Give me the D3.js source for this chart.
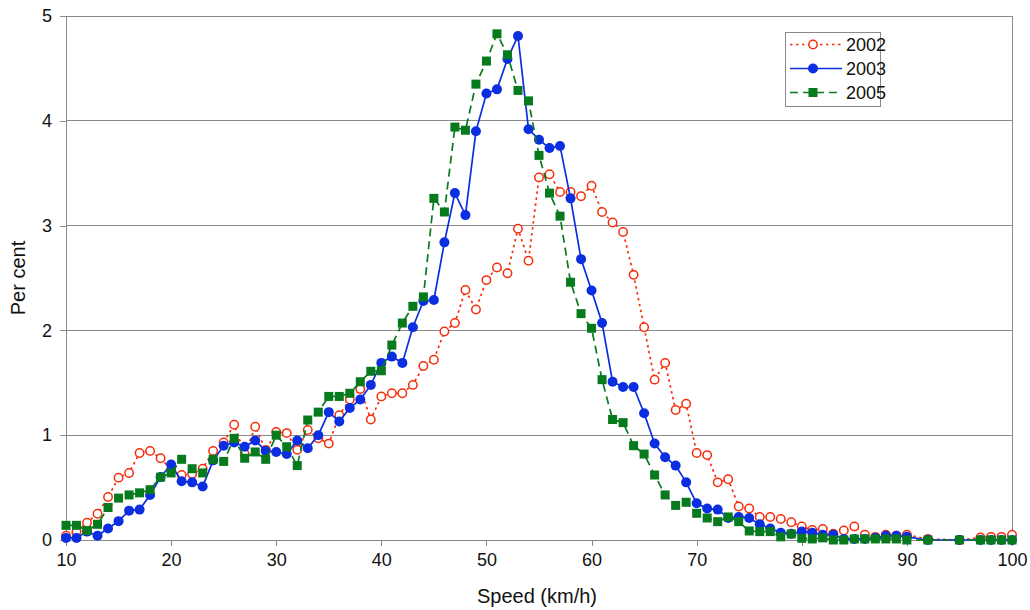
<!DOCTYPE html>
<html>
<head>
<meta charset="utf-8">
<script src="https://cdn.jsdelivr.net/npm/d3@7"></script>
<style>
  html, body { margin: 0; padding: 0; background: #fff; }
  svg text { font-family: "Liberation Sans Narrow", sans-serif; fill: #111; font-weight: normal; }
</style>
</head>
<body>
<svg id="chart" width="1030" height="610"></svg>
<script>
// ---- DATA ----
const speeds = [10, 11, 12, 13, 14, 15, 16, 17, 18, 19, 20, 21, 22, 23, 24, 25, 26, 27, 28, 29,
  30, 31, 32, 33, 34, 35, 36, 37, 38, 39, 40, 41, 42, 43, 44, 45, 46, 47, 48, 49,
  50, 51, 52, 53, 54, 55, 56, 57, 58, 59, 60, 61, 62, 63, 64, 65, 66, 67, 68, 69,
  70, 71, 72, 73, 74, 75, 76, 77, 78, 79, 80, 81, 82, 83, 84, 85, 86, 87, 88, 89,
  90, 92, 95, 97, 98, 99, 100];

const pct2002 = [0.04, 0.08, 0.165, 0.25, 0.41, 0.595, 0.64, 0.83, 0.85, 0.78, 0.67, 0.62, 0.63, 0.68, 0.85, 0.93, 1.10, 0.82, 1.08, 0.86,
  1.03, 1.02, 0.86, 1.05, 0.97, 0.92, 1.19, 1.34, 1.44, 1.15, 1.37, 1.40, 1.40, 1.48, 1.66, 1.72, 1.99, 2.07, 2.385, 2.20,
  2.48, 2.60, 2.545, 2.97, 2.665, 3.46, 3.49, 3.32, 3.32, 3.28, 3.38, 3.13, 3.03, 2.94, 2.53, 2.03, 1.53, 1.69, 1.24, 1.30,
  0.83, 0.81, 0.55, 0.58, 0.32, 0.30, 0.22, 0.22, 0.20, 0.17, 0.13, 0.095, 0.105, 0.06, 0.09, 0.13, 0.05, 0.03, 0.05, 0.04,
  0.05, 0.01, 0.0, 0.025, 0.03, 0.03, 0.05];

const pct2003 = [0.02, 0.02, 0.08, 0.04, 0.11, 0.18, 0.28, 0.29, 0.43, 0.60, 0.72, 0.56, 0.55, 0.51, 0.76, 0.90, 0.93, 0.89, 0.95, 0.85,
  0.84, 0.82, 0.95, 0.875, 1.0, 1.22, 1.13, 1.26, 1.34, 1.48, 1.69, 1.75, 1.69, 2.03, 2.28, 2.29, 2.84, 3.31, 3.10, 3.90,
  4.26, 4.30, 4.59, 4.81, 3.92, 3.82, 3.74, 3.76, 3.26, 2.68, 2.38, 2.07, 1.51, 1.46, 1.46, 1.21, 0.92, 0.79, 0.71, 0.55,
  0.35, 0.30, 0.29, 0.21, 0.22, 0.21, 0.15, 0.11, 0.07, 0.06, 0.08, 0.07, 0.05, 0.05, 0.01, 0.01, 0.01, 0.02, 0.04, 0.04,
  0.03, 0.0, 0.0, 0.0, 0.0, 0.0, 0.0];

const pct2005 = [0.14, 0.14, 0.09, 0.15, 0.31, 0.40, 0.43, 0.45, 0.48, 0.60, 0.64, 0.77, 0.68, 0.64, 0.77, 0.75, 0.97, 0.78, 0.84, 0.77,
  1.0, 0.89, 0.71, 1.145, 1.22, 1.37, 1.37, 1.40, 1.51, 1.61, 1.615, 1.86, 2.07, 2.23, 2.32, 3.26, 3.13, 3.94, 3.91, 4.35,
  4.57, 4.83, 4.63, 4.29, 4.19, 3.67, 3.31, 3.09, 2.46, 2.16, 2.02, 1.53, 1.15, 1.12, 0.90, 0.82, 0.62, 0.43, 0.33, 0.36,
  0.255, 0.21, 0.175, 0.22, 0.175, 0.086, 0.08, 0.08, 0.03, 0.057, 0.016, 0.01, 0.02, 0.0, 0.0, 0.01, 0.01, 0.01, 0.01, 0.01,
  0.0, 0.0, 0.0, 0.0, 0.0, 0.0, 0.0];

const seriesNames = ["2002", "2003", "2005"];
const xTicks = [10, 20, 30, 40, 50, 60, 70, 80, 90, 100];
const yTicks = [0, 1, 2, 3, 4, 5];

// ---- LAYOUT ----
const FONT = '"Liberation Sans Narrow", sans-serif';
const svg = d3.select("#chart");
const margin = { top: 16, right: 18, bottom: 70, left: 66 };
const width = 1030, height = 610;
const innerW = width - margin.left - margin.right;
const innerH = height - margin.top - margin.bottom;

const g = svg.append("g").attr("transform", `translate(${margin.left},${margin.top})`);

const x = d3.scaleLinear().domain([10, 100]).range([0, innerW]);
const y = d3.scaleLinear().domain([0, 5]).range([innerH, 0]);

const gridColor = "#8a8a8a";

// gridlines
g.append("g")
  .selectAll("line")
  .data(yTicks.filter(d => d > 0))
  .join("line")
  .attr("x1", 0).attr("x2", innerW)
  .attr("y1", d => y(d)).attr("y2", d => y(d))
  .attr("stroke", gridColor).attr("stroke-width", 1)
  .attr("shape-rendering", "crispEdges");

// right edge of plot area
g.append("line")
  .attr("x1", innerW).attr("x2", innerW)
  .attr("y1", 0).attr("y2", innerH)
  .attr("stroke", gridColor)
  .attr("shape-rendering", "crispEdges");

// axes
const xAxis = g.append("g")
  .attr("transform", `translate(0,${innerH})`)
  .call(d3.axisBottom(x).tickValues(xTicks).tickFormat(d3.format("d")).tickSize(6).tickPadding(7));
const yAxis = g.append("g")
  .call(d3.axisLeft(y).tickValues(yTicks).tickFormat(d3.format("d")).tickSize(6).tickPadding(8));

[xAxis, yAxis].forEach(ax => {
  ax.attr("font-family", FONT);
  ax.selectAll(".domain").attr("stroke", gridColor).attr("shape-rendering", "crispEdges");
  ax.selectAll(".tick line").attr("stroke", gridColor).attr("shape-rendering", "crispEdges");
  ax.selectAll(".tick text")
    .attr("font-size", 18)
    .attr("fill", "#111");
});

// axis titles
svg.append("text")
  .attr("x", margin.left + innerW / 2 - 2)
  .attr("y", 603)
  .attr("text-anchor", "middle")
  .attr("font-size", 20)
  .text("Speed (km/h)");

svg.append("text")
  .attr("transform", `translate(25,${margin.top + innerH / 2}) rotate(-90)`)
  .attr("text-anchor", "middle")
  .attr("font-size", 20)
  .text("Per cent");

// ---- SERIES ----
const series = [
  { name: seriesNames[0], values: pct2002, color: "#f52d0a", dash: "2.5,3.5", marker: "circleOpen" },
  { name: seriesNames[1], values: pct2003, color: "#0b2ee0", dash: null, marker: "circle" },
  { name: seriesNames[2], values: pct2005, color: "#067a1c", dash: "8,5", marker: "square" }
];

const line = d3.line()
  .x(d => x(d.s))
  .y(d => y(d.v));

function drawMarker(sel, type, color) {
  if (type === "square") {
    sel.append("rect")
      .attr("x", -4.5).attr("y", -4.5)
      .attr("width", 9).attr("height", 9)
      .attr("fill", color);
  } else if (type === "circle") {
    sel.append("circle")
      .attr("r", 5)
      .attr("fill", color);
  } else {
    sel.append("circle")
      .attr("r", 4.2)
      .attr("fill", "#fff")
      .attr("stroke", color)
      .attr("stroke-width", 1.5);
  }
}

series.forEach(sr => {
  const pts = speeds.map((s, i) => ({ s, v: sr.values[i] }));
  const sg = g.append("g").attr("class", "series");

  sg.append("path")
    .datum(pts)
    .attr("d", line)
    .attr("fill", "none")
    .attr("stroke", sr.color)
    .attr("stroke-width", 1.7)
    .attr("stroke-dasharray", sr.dash);

  sg.selectAll("g.pt")
    .data(pts)
    .join("g")
    .attr("class", "pt")
    .attr("transform", d => `translate(${x(d.s)},${y(d.v)})`)
    .each(function () { drawMarker(d3.select(this), sr.marker, sr.color); });
});

// ---- LEGEND ----
const legend = svg.append("g").attr("transform", "translate(785,32)");
legend.append("rect")
  .attr("width", 95).attr("height", 74)
  .attr("fill", "#fff")
  .attr("stroke", gridColor)
  .attr("shape-rendering", "crispEdges");

series.forEach((sr, i) => {
  const ly = 12.5 + i * 24;
  const row = legend.append("g").attr("transform", `translate(0,${ly})`);
  row.append("line")
    .attr("x1", 5).attr("x2", 57)
    .attr("y1", 0).attr("y2", 0)
    .attr("stroke", sr.color)
    .attr("stroke-width", 1.7)
    .attr("stroke-dasharray", sr.dash);
  const m = row.append("g").attr("transform", "translate(28,0)");
  drawMarker(m, sr.marker, sr.color);
  row.append("text")
    .attr("x", 61).attr("y", 6.5)
    .attr("font-size", 18)
    .text(sr.name);
});
</script>
</body>
</html>
